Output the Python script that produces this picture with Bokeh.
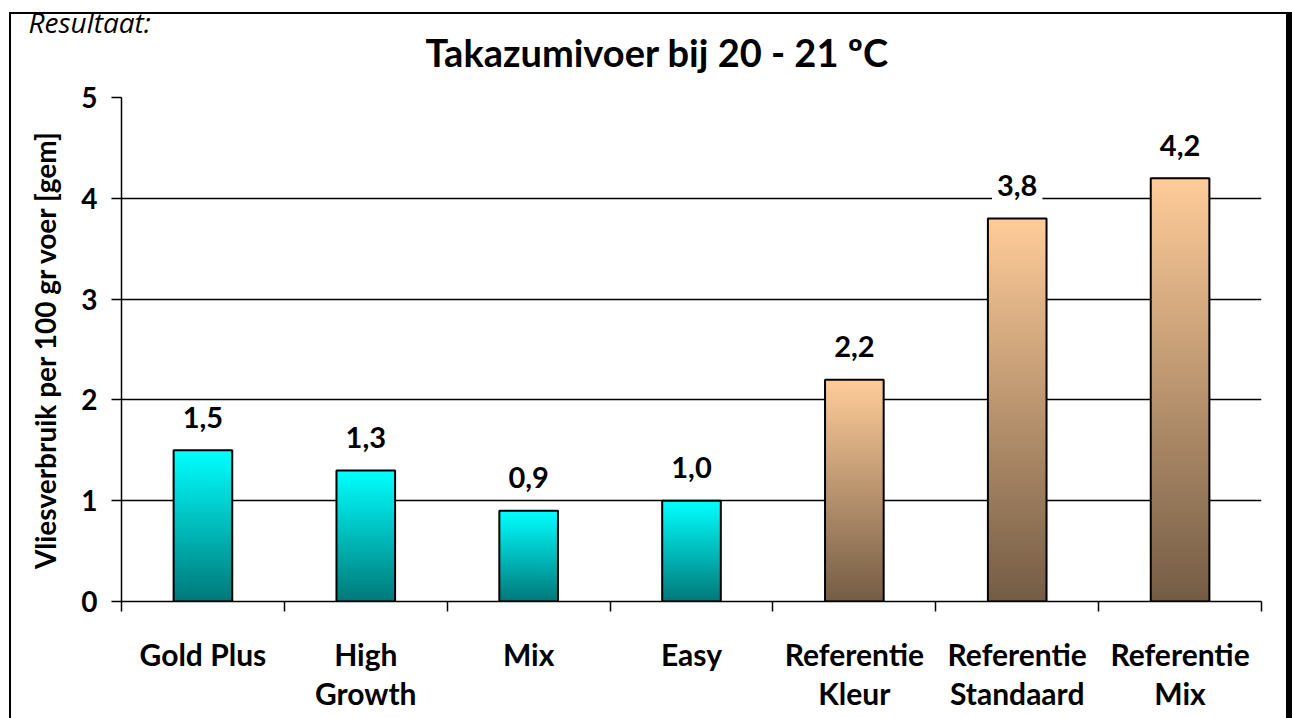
from bokeh.plotting import figure
from bokeh.models import (ColumnDataSource, FixedTicker, Range1d, Title)
from bokeh.core.properties import value
from bokeh.embed import file_html
from bokeh.resources import INLINE

# ---- data ----
categories = ["Gold Plus", "High\nGrowth", "Mix", "Easy",
              "Referentie\nKleur", "Referentie\nStandaard", "Referentie\nMix"]
values = [1.5, 1.3, 0.9, 1.0, 2.2, 3.8, 4.2]
value_labels = ["1,5", "1,3", "0,9", "1,0", "2,2", "3,8", "4,2"]
groups = ["feed", "feed", "feed", "feed", "ref", "ref", "ref"]
y_ticks = [0, 1, 2, 3, 4, 5]
title_text = "Takazumivoer bij 20 - 21 ºC"
y_label = "Vliesverbruik per 100 gr voer [gem]"
caption = "Resultaat:"

# gradient colours (bottom, top)
grad = {"feed": ((0x00, 0x78, 0x78), (0x00, 0xFF, 0xFF)),
        "ref": ((0x74, 0x5C, 0x45), (0xFF, 0xCC, 0x99))}

FONT = "Lato"
W, H = 1292, 718
FL, FR, FT, FB = 121, 31, 97, 117   # borders around the frame

p = figure(width=W, height=H, output_backend="svg", toolbar_location=None,
           title=None,
           x_range=Range1d(0, len(categories)), y_range=Range1d(0, 5),
           min_border_left=FL, min_border_right=FR, min_border_top=FT,
           min_border_bottom=FB, outline_line_color=None)
p.background_fill_color = "white"
p.border_fill_color = None
# outer picture border (left/top thin, right thick) painted behind the canvas
p.styles = {"background": (
    "linear-gradient(#000,#000) 9px 12px / 2px 720px no-repeat, "
    "linear-gradient(#000,#000) 9px 12px / 1283px 2px no-repeat, "
    "linear-gradient(#000,#000) 1286px 12px / 6px 720px no-repeat, #ffffff")}

# gradient bars: overlapping slices drawn tallest first (no seams)
N = 90
xs, tops, cols = [], [], []
for k in range(N - 1, -1, -1):
    t = (k + 0.5) / N
    for i, (v, g) in enumerate(zip(values, groups)):
        c0, c1 = grad[g]
        col = "#%02x%02x%02x" % tuple(int(round(a + (b - a) * t)) for a, b in zip(c0, c1))
        xs.append(i + 0.5)
        tops.append(v * (k + 1) / N)
        cols.append(col)
p.vbar(x=xs, bottom=0, top=tops, width=0.36, fill_color=cols, line_color=None)

src = ColumnDataSource(dict(x=[i + 0.5 for i in range(len(values))], top=values,
                            lab=value_labels))
p.vbar(x="x", top="top", bottom=0, width=0.36, source=src, fill_alpha=0,
       line_color="black", line_width=2)

p.text(x="x", y="top", text="lab", source=src, y_offset=-33,
       text_align="center", text_baseline="middle",
       text_font=value(FONT), text_font_style="bold", text_font_size="29px",
       text_color="black", background_fill_color="white", padding=5)

# grid
p.xgrid.grid_line_color = None
p.ygrid.grid_line_color = "black"
p.ygrid.grid_line_width = 1.5
p.ygrid.ticker = FixedTicker(ticks=y_ticks)

# y axis
ya = p.yaxis[0]
ya.ticker = FixedTicker(ticks=y_ticks)
ya.axis_line_color = "black"
ya.axis_line_width = 1.5
ya.major_tick_out = 10
ya.major_tick_in = 0
ya.major_tick_line_color = "black"
ya.major_tick_line_width = 1.5
ya.minor_tick_line_color = None
ya.major_label_text_font = FONT
ya.major_label_text_font_style = "bold"
ya.major_label_text_font_size = "28px"
ya.major_label_text_color = "black"
ya.major_label_standoff = 14
ya.axis_label = y_label
ya.axis_label_text_font = FONT
ya.axis_label_text_font_style = "bold"
ya.axis_label_text_font_size = "28px"
ya.axis_label_text_color = "black"
ya.axis_label_standoff = 16

# x axis: labels at centres, ticks at category boundaries (minor ticks)
xa = p.xaxis[0]
xa.ticker = FixedTicker(ticks=[i + 0.5 for i in range(len(categories))],
                        minor_ticks=list(range(len(categories) + 1)))
xa.major_label_overrides = {i + 0.5: c for i, c in enumerate(categories)}
xa.axis_line_color = "black"
xa.axis_line_width = 1.5
xa.major_tick_line_color = None
xa.major_tick_out = 0
xa.major_tick_in = 0
xa.minor_tick_line_color = "black"
xa.minor_tick_line_width = 1.5
xa.minor_tick_out = 10
xa.minor_tick_in = 0
xa.major_label_text_font = FONT
xa.major_label_text_font_style = "bold"
xa.major_label_text_font_size = "30px"
xa.major_label_text_color = "black"
xa.major_label_text_line_height = 1.11
xa.major_label_standoff = 24

# above panels, from the frame outwards: spacer, main title, caption
p.add_layout(Title(text=" ", align="left", text_font=FONT, text_font_size="1px",
                   standoff=20), "above")
p.add_layout(Title(text=title_text, align="left", offset=304, text_font=FONT,
                   text_font_style="bold", text_font_size="38px",
                   text_color="black", standoff=0), "above")
p.add_layout(Title(text=caption, align="left", offset=28 - FL, text_font="Open Sans",
                   text_font_style="italic", text_font_size="28px",
                   text_color="black", standoff=-28), "above")

open("out.html", "w").write(file_html(p, INLINE))
